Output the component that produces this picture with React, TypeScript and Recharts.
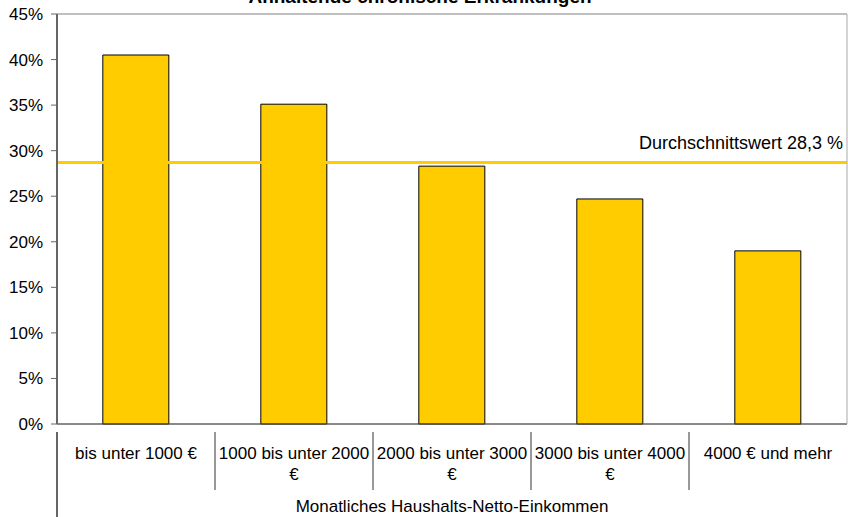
import { BarChart, Bar, XAxis, YAxis, CartesianGrid, ReferenceLine, Text } from "recharts";

const W = 848;
const H = 517;
const LEFT = 57;
const TOP = 14;
const PLOT_W = 790;
const FONT = "'Liberation Sans', Arial, sans-serif";
const YELLOW = "#FFCC00";
const GRIDC = "#808080";

const categories = [
  "bis unter 1000 €",
  "1000 bis unter 2000 €",
  "2000 bis unter 3000 €",
  "3000 bis unter 4000 €",
  "4000 € und mehr",
];
const shares = [40.5, 35.1, 28.3, 24.7, 19.0];
const average = 28.7;
const averageLabel = "Durchschnittswert 28,3 %";
const yTicks = [0, 5, 10, 15, 20, 25, 30, 35, 40, 45];
const title = "Anhaltende chronische Erkrankungen";
const xTitle = "Monatliches Haushalts-Netto-Einkommen";

const data = categories.map((c, i) => ({ cat: c, value: shares[i] }));
const half = PLOT_W / categories.length / 2;

function CatTick(props: any) {
  const { x, y, payload, index } = props;
  return (
    <g>
      {index === 0 && <line x1={x - half} x2={x - half} y1={y} y2={H} stroke="#666" strokeWidth={2} />}
      {index < categories.length - 1 && (
        <line x1={x + half} x2={x + half} y1={y} y2={y + 58} stroke="#333" strokeWidth={1} />
      )}
      <Text
        x={x}
        y={y + 15}
        width={152}
        textAnchor="middle"
        verticalAnchor="start"
        lineHeight={21}
        style={{ fontSize: 17, fontFamily: FONT }}
        fill="#000"
      >
        {payload.value}
      </Text>
    </g>
  );
}

function AvgLabel(props: any) {
  const { viewBox } = props;
  return (
    <text
      x={viewBox.x + viewBox.width - 4}
      y={viewBox.y - 14}
      textAnchor="end"
      fontSize={18}
      fontFamily={FONT}
      fill="#000"
    >
      {averageLabel}
    </text>
  );
}

export default function App() {
  return (
    <div style={{ position: "absolute", left: 0, top: 0, width: W, height: H, background: "#fff", overflow: "hidden" }}>
      <div
        style={{
          position: "absolute",
          left: 0,
          width: 840,
          top: -14,
          textAlign: "center",
          fontFamily: FONT,
          fontWeight: "bold",
          fontSize: 19,
          lineHeight: "22px",
        }}
      >
        {title}
      </div>
      <BarChart width={W} height={H} data={data} margin={{ top: TOP, right: 0, left: 0, bottom: 0 }} barCategoryGap="29%">
        <CartesianGrid horizontal vertical={false} stroke={GRIDC} strokeDasharray="" />
        <XAxis
          dataKey="cat"
          interval={0}
          height={93}
          tickLine={false}
          axisLine={{ stroke: "#555", strokeWidth: 1 }}
          tick={<CatTick />}
          label={{ value: xTitle, position: "insideBottom", offset: 5, fill: "#000", fontSize: 17, fontFamily: FONT }}
        />
        <YAxis
          yAxisId="l"
          width={LEFT}
          domain={[0, 45]}
          ticks={yTicks}
          tickFormatter={(v) => `${v}%`}
          tickSize={6}
          tickMargin={8}
          tickLine={{ stroke: "#666" }}
          axisLine={{ stroke: "#666", strokeWidth: 2 }}
          tick={{ fill: "#000", fontSize: 17, fontFamily: FONT }}
        />
        <YAxis yAxisId="r" orientation="right" width={1} domain={[0, 45]} tick={false} tickLine={false} axisLine={{ stroke: "#aaa" }} />
        <Bar yAxisId="l" dataKey="value" fill={YELLOW} stroke="#000" strokeWidth={1} isAnimationActive={false} />
        <ReferenceLine yAxisId="l" y={average} stroke={YELLOW} strokeWidth={3} label={<AvgLabel />} />
      </BarChart>
    </div>
  );
}
